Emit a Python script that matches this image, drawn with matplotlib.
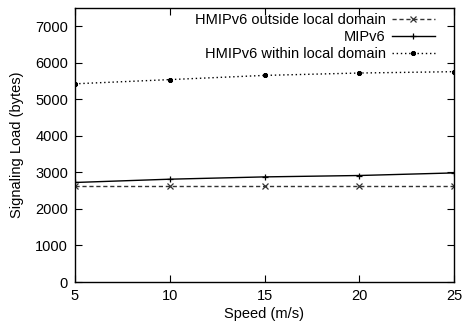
import matplotlib
matplotlib.use("Agg")
import matplotlib.pyplot as plt

plt.rcParams['font.family'] = ['Liberation Sans', 'DejaVu Sans']

speed = [5, 10, 15, 20, 25]
hmip_outside = [2630, 2630, 2630, 2630, 2630]
mipv6 = [2724, 2814, 2877, 2915, 2986]
hmip_within = [5425, 5540, 5655, 5720, 5757]

fig = plt.figure(figsize=(4.63, 3.27), dpi=100)
ax = fig.add_axes([75 / 463, 1 - 282 / 327, (454 - 75) / 463, (282 - 8) / 327])

ax.plot(speed, hmip_outside, color='#333333', lw=1, ls=(0, (3, 2)),
        marker='x', ms=4, mew=0.9, label='HMIPv6 outside local domain')
ax.plot(speed, mipv6, color='black', lw=1, ls='-',
        marker='+', ms=5, mew=0.9, label='MIPv6')
ax.plot(speed, hmip_within, color='black', lw=1, ls=(0, (1, 2)),
        marker=(8, 2, 0), ms=3.5, mew=1.0, label='HMIPv6 within local domain')

ax.set_xlim(5, 25)
ax.set_ylim(0, 7500)
ax.set_xticks([5, 10, 15, 20, 25])
ax.set_yticks(range(0, 7001, 1000))
ax.tick_params(direction='in', top=True, right=True, length=5, width=0.8,
               labelsize=10.5, pad=5)
for s in ax.spines.values():
    s.set_linewidth(1)

ax.set_xlabel('Speed (m/s)', fontsize=10.5, labelpad=3)
ax.set_ylabel('Signaling Load (bytes)', fontsize=10.5, labelpad=8)

leg = ax.legend(loc='upper right', bbox_to_anchor=(0.966, 1.004),
                frameon=False, markerfirst=False,
                fontsize=10.5, handlelength=3.0, handletextpad=0.4,
                labelspacing=0.22, borderaxespad=0.0)
for t in leg.get_texts():
    t.set_ha('right')
leg._legend_box.align = 'right'

fig.savefig('out.png', dpi=100)
